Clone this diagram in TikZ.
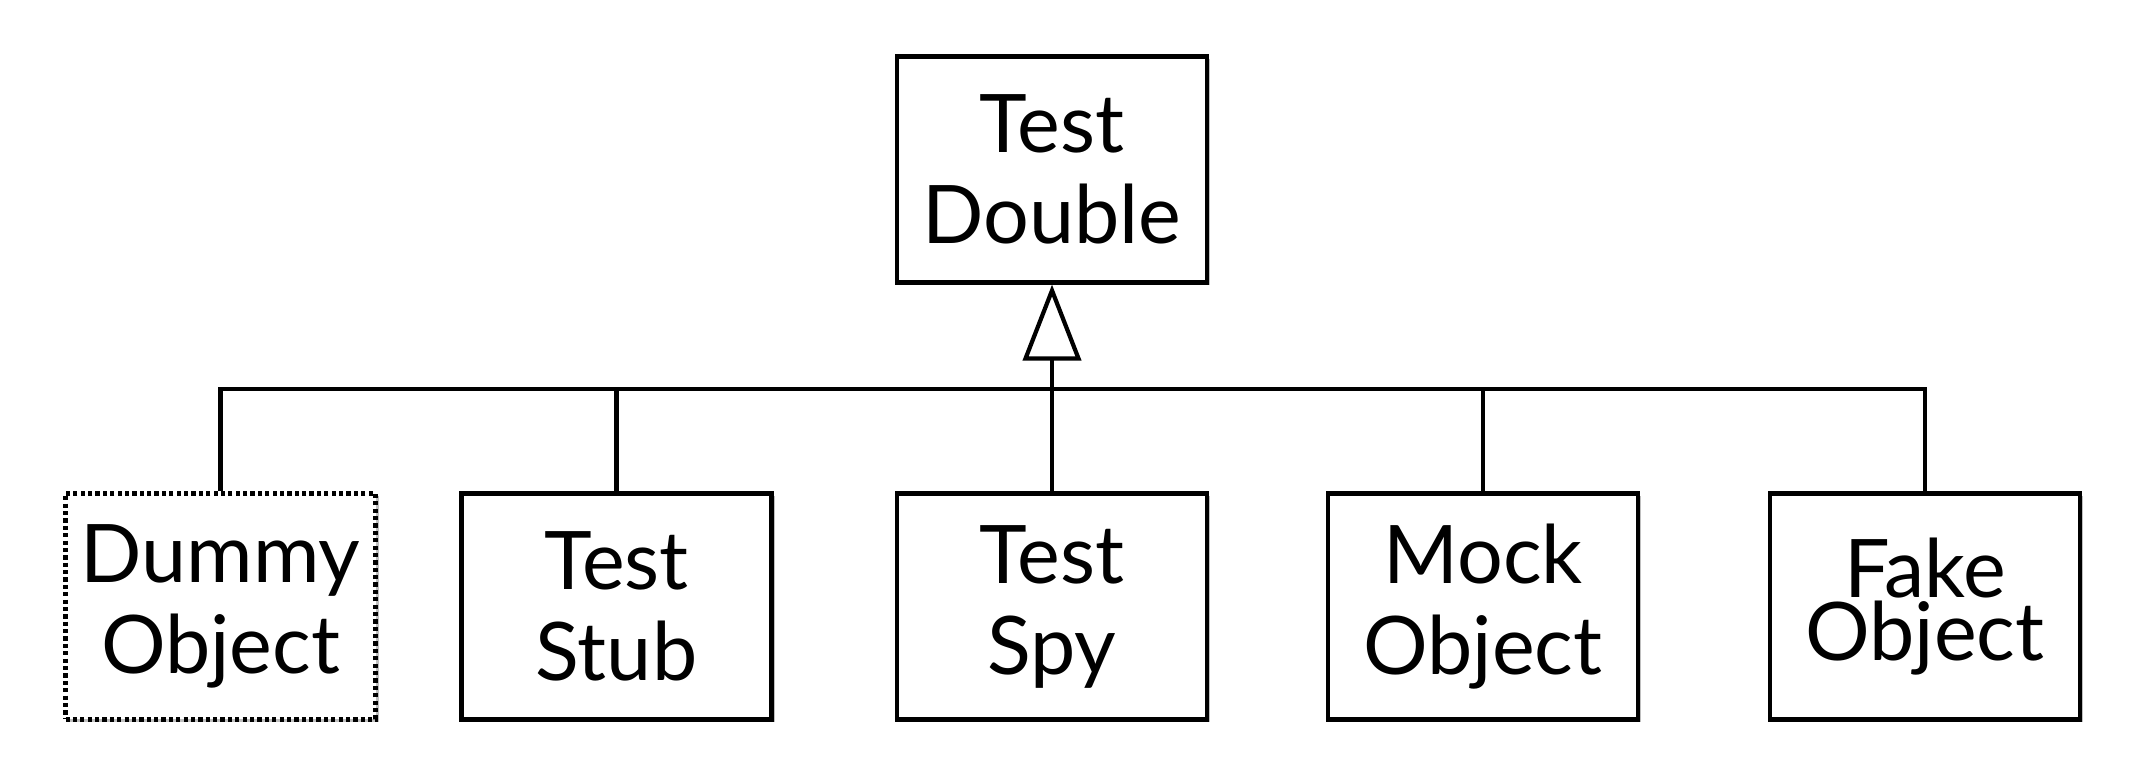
\documentclass[tikz,border=0pt]{standalone}
\usepackage{fontspec}
\setmainfont{Lato}
\usetikzlibrary{arrows.meta,shadows}
\tikzset{every path/.style={line width=1.2pt},
  kind/.style={draw, fill=white, align=center, minimum width=3.1cm, minimum height=2.26cm,
    inner sep=0pt, font=\fontsize{23}{25.9}\selectfont,
    drop shadow={shadow xshift=0.03cm, shadow yshift=-0.03cm, opacity=0.25, fill=black}},
  dummykind/.style={kind, dash pattern=on 1.2pt off 0.9pt},
  isa/.style={-{Triangle[open, length=0.76cm, width=0.58cm]}}}

\begin{document}
\begin{tikzpicture}
  \useasboundingbox (0,0) rectangle (21.46,7.8);
  \node[kind] (dbl) at (10.52, 6.105) {Test\\Double};
  \node[dummykind] (dummy) at ( 2.205, 1.735) {Dummy\\Object};
  \node[kind] (stub)  at ( 6.165, 1.735) {Test\\Stub};
  \node[kind] (spy)   at (10.52, 1.735) {Test\\Spy};
  \node[kind] (mock)  at (14.83, 1.735) {Mock\\Object};
  \node[kind, font=\fontsize{23}{14.8}\selectfont] (fake) at (19.25, 1.735) {Fake\\Object};
  \coordinate (bar) at (10.52, 3.91);

  \draw (dummy.north) |- (bar) -| (fake.north);
  \draw (stub.north) -- (stub.north |- bar);
  \draw (mock.north) -- (mock.north |- bar);
  \draw[isa] (spy.north) -- (dbl.south);
\end{tikzpicture}
\end{document}
